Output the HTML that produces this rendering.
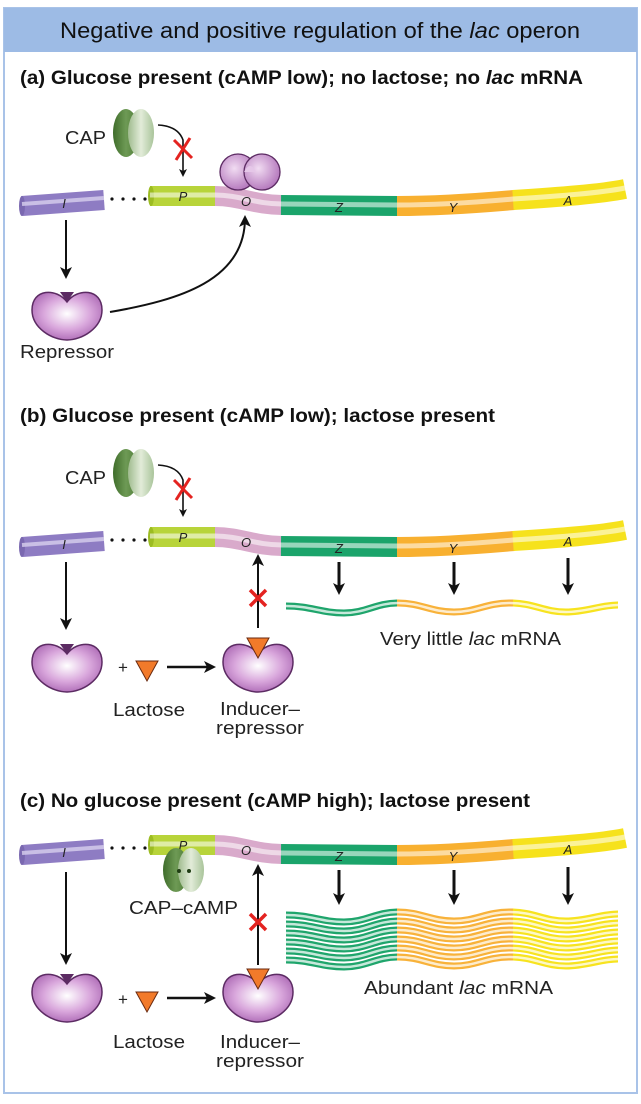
<!DOCTYPE html>
<html><head><meta charset="utf-8"><style>
html,body{margin:0;padding:0;background:#fff;}
svg{display:block;font-family:"Liberation Sans",sans-serif;}
</style></head><body>
<svg width="641" height="1104" viewBox="0 0 641 1104" xmlns="http://www.w3.org/2000/svg">
<defs>
<marker id="ah" markerWidth="8" markerHeight="8" refX="6" refY="4" orient="auto" markerUnits="userSpaceOnUse"><path d="M0,0 L8,4 L0,8 L2,4 Z" fill="#111"/></marker>
<marker id="ahb" markerWidth="12" markerHeight="12" refX="9" refY="6" orient="auto" markerUnits="userSpaceOnUse"><path d="M0,0 L12,6 L0,12 L3,6 Z" fill="#111"/></marker>
<radialGradient id="hg" cx="0.5" cy="0.45" r="0.6"><stop offset="0" stop-color="#fff"/><stop offset="0.55" stop-color="#d9a7dc"/><stop offset="1" stop-color="#a965b2"/></radialGradient>
<radialGradient id="dg" cx="0.4" cy="0.4" r="0.7"><stop offset="0" stop-color="#f1dcf2"/><stop offset="1" stop-color="#ad6cb6"/></radialGradient>
<linearGradient id="cg1" x1="0" x2="1"><stop offset="0" stop-color="#3f6d2b"/><stop offset="0.5" stop-color="#6e9a55"/><stop offset="1" stop-color="#4b7934"/></linearGradient>
<linearGradient id="cg2" x1="0" x2="1"><stop offset="0" stop-color="#9fbb8e"/><stop offset="0.5" stop-color="#e2ecd9"/><stop offset="1" stop-color="#a9c49a"/></linearGradient>
<path id="wv" d="M0,-2 C25,-2 35,5 58,5 C80,5 90,-5 112,-5 C135,-5 145,4 168,4 C190,4 200,-5 224,-5 C248,-5 258,4 280,4 C300,4 315,-3 332,-3" fill="none"/>
<clipPath id="c1"><rect x="0" y="-20" width="111" height="40"/></clipPath>
<clipPath id="c2"><rect x="111" y="-20" width="116" height="40"/></clipPath>
<clipPath id="c3"><rect x="227" y="-20" width="110" height="40"/></clipPath>
<g id="stripe">
<use href="#wv" stroke="#1fa56c" stroke-width="7" clip-path="url(#c1)"/>
<use href="#wv" stroke="#f8b23a" stroke-width="7" clip-path="url(#c2)"/>
<use href="#wv" stroke="#f7e31f" stroke-width="7" clip-path="url(#c3)"/>
<use href="#wv" stroke="#fff" stroke-opacity="0.75" stroke-width="2.5"/>
</g>
<g id="dna">
<path d="M22,547 L104,541" stroke="#8e7cc3" stroke-width="20"/>
<ellipse cx="22" cy="547" rx="3" ry="10" fill="#7a68b0"/>
<path d="M22,545 L104,539" stroke="#d8d0ee" stroke-width="4" opacity="0.8"/>
<g fill="#111"><circle cx="112" cy="540" r="1.6"/><circle cx="123" cy="540" r="1.6"/><circle cx="134" cy="540" r="1.6"/><circle cx="145" cy="540" r="1.6"/></g>
<path d="M150,537 L216,537" stroke="#b8d43a" stroke-width="20"/>
<ellipse cx="151" cy="537" rx="3" ry="10" fill="#9cbc22"/>
<path d="M215,537 C240,537 255,546 282,546" stroke="#d9aacb" stroke-width="20" fill="none"/>
<path d="M281,546 L398,547" stroke="#1ba46b" stroke-width="20"/>
<path d="M397,547 C440,547 480,544 514,541" stroke="#f8b030" stroke-width="20" fill="none"/>
<path d="M513,541 C560,538 600,535 625,530" stroke="#f6e21c" stroke-width="20" fill="none"/>
<path d="M150,536 L215,536 C240,536 255,545 282,545 L397,546 C440,546 480,543 513,540 C560,537 600,534 625,529" stroke="#fff" stroke-opacity="0.55" stroke-width="5" fill="none"/>
<g font-style="italic" font-size="13" fill="#222" text-anchor="middle">
<text x="64" y="549">I</text><text x="183" y="542">P</text><text x="246" y="547">O</text><text x="339" y="553">Z</text><text x="453" y="553">Y</text><text x="568" y="546">A</text>
</g>
</g>
<g id="cap">
<ellipse cx="126" cy="473" rx="13" ry="24" fill="url(#cg1)"/>
<ellipse cx="141" cy="473" rx="13" ry="24" fill="url(#cg2)"/>
<path d="M158,465 Q178,466 183,480 L183,515" stroke="#111" stroke-width="1.6" fill="none" marker-end="url(#ah)"/>
<path d="M174,480 L192,498 M190,478 L176,500" stroke="#e42320" stroke-width="3"/>
<text x="65" y="484" font-size="18" textLength="41" lengthAdjust="spacingAndGlyphs" fill="#222">CAP</text>
</g>
<g id="heart">
<path d="M0,12 C-10,-2 -35,-2 -35,20 C-35,38 -15,50 0,50 C15,50 35,38 35,20 C35,-2 10,-2 0,12 Z" fill="url(#hg)" stroke="#5c2b63" stroke-width="1.5"/>
</g>
<path id="notch" d="M-7,2 L7,2 L0,12 Z" fill="#5c2b63"/>
<path id="tri" d="M-11,0 L11,0 L0,20 Z" fill="#f27a2a" stroke="#6a2a10" stroke-width="1"/>
</defs>

<rect x="4" y="8" width="633" height="1085" fill="#fff" stroke="#a9c3e8" stroke-width="2"/>
<rect x="4" y="8" width="633" height="44" fill="#9dbbe5"/>
<text x="60" y="38" font-size="22" textLength="520" lengthAdjust="spacingAndGlyphs" fill="#111">Negative and positive regulation of the <tspan font-style="italic">lac</tspan> operon</text>

<!-- (a) -->
<text x="20" y="84" font-size="19" font-weight="bold" textLength="563" lengthAdjust="spacingAndGlyphs" fill="#111">(a) Glucose present (cAMP low); no lactose; no <tspan font-style="italic">lac</tspan> mRNA</text>
<use href="#cap" transform="translate(0,-340)"/>
<g transform="translate(0,-341)"><use href="#dna"/></g>
<circle cx="238" cy="172" r="18" fill="url(#dg)" stroke="#5c2b63" stroke-width="1.3"/>
<circle cx="262" cy="172" r="18" fill="url(#dg)" stroke="#5c2b63" stroke-width="1.3"/>
<path d="M244,172 Q250,160 256,172" fill="#e5c7e8" stroke="none"/>
<path d="M66,220 L66,276" stroke="#111" stroke-width="2" marker-end="url(#ahb)"/>
<use href="#heart" transform="translate(67,290)"/>
<use href="#notch" transform="translate(67,290)"/>
<text x="20" y="358" font-size="18" textLength="94" lengthAdjust="spacingAndGlyphs" fill="#222">Repressor</text>
<path d="M110,312 C180,300 245,280 245,218" stroke="#111" stroke-width="2" fill="none" marker-end="url(#ahb)"/>

<!-- (b) -->
<text x="20" y="422" font-size="19" font-weight="bold" textLength="475" lengthAdjust="spacingAndGlyphs" fill="#111">(b) Glucose present (cAMP low); lactose present</text>
<use href="#cap"/>
<use href="#dna"/>
<path d="M66,562 L66,627" stroke="#111" stroke-width="2" marker-end="url(#ahb)"/>
<use href="#heart" transform="translate(67,642)"/>
<use href="#notch" transform="translate(67,642)"/>
<text x="118" y="673" font-size="17" fill="#222">+</text>
<use href="#tri" transform="translate(147,661)"/>
<path d="M167,667 L213,667" stroke="#111" stroke-width="2.5" marker-end="url(#ahb)"/>
<use href="#heart" transform="translate(258,642)"/>
<use href="#tri" transform="translate(258,638)"/>
<path d="M258,628 L258,557" stroke="#111" stroke-width="2" marker-end="url(#ahb)"/>
<path d="M250,590 L266,606 M266,590 L250,606" stroke="#e42320" stroke-width="3.5"/>
<g stroke="#111" stroke-width="3"><path d="M339,562 L339,592" marker-end="url(#ahb)"/><path d="M454,562 L454,592" marker-end="url(#ahb)"/><path d="M568,558 L568,592" marker-end="url(#ahb)"/></g>
<use href="#stripe" transform="translate(286,608)"/>
<text x="380" y="645" font-size="18" textLength="181" lengthAdjust="spacingAndGlyphs" fill="#222">Very little <tspan font-style="italic">lac</tspan> mRNA</text>
<text x="113" y="716" font-size="18" textLength="72" lengthAdjust="spacingAndGlyphs" fill="#222">Lactose</text>
<text x="220" y="715" font-size="18" textLength="80" lengthAdjust="spacingAndGlyphs" fill="#222">Inducer–</text>
<text x="216" y="734" font-size="18" textLength="88" lengthAdjust="spacingAndGlyphs" fill="#222">repressor</text>

<!-- (c) -->
<text x="20" y="807" font-size="19" font-weight="bold" textLength="510" lengthAdjust="spacingAndGlyphs" fill="#111">(c) No glucose present (cAMP high); lactose present</text>
<g transform="translate(0,308)"><use href="#dna"/></g>
<ellipse cx="176" cy="870" rx="13" ry="22" fill="url(#cg1)"/>
<ellipse cx="191" cy="870" rx="13" ry="22" fill="url(#cg2)"/>
<circle cx="179" cy="871" r="2" fill="#1f3d14"/><circle cx="189" cy="871" r="2" fill="#1f3d14"/>
<text x="129" y="914" font-size="18" textLength="109" lengthAdjust="spacingAndGlyphs" fill="#222">CAP–cAMP</text>
<path d="M66,872 L66,962" stroke="#111" stroke-width="2" marker-end="url(#ahb)"/>
<use href="#heart" transform="translate(67,972)"/>
<use href="#notch" transform="translate(67,972)"/>
<text x="118" y="1005" font-size="17" fill="#222">+</text>
<use href="#tri" transform="translate(147,992)"/>
<path d="M167,998 L213,998" stroke="#111" stroke-width="2.5" marker-end="url(#ahb)"/>
<use href="#heart" transform="translate(258,972)"/>
<use href="#tri" transform="translate(258,969)"/>
<path d="M258,965 L258,867" stroke="#111" stroke-width="2" marker-end="url(#ahb)"/>
<path d="M250,914 L266,930 M266,914 L250,930" stroke="#e42320" stroke-width="3.5"/>
<g stroke="#111" stroke-width="3"><path d="M339,870 L339,902" marker-end="url(#ahb)"/><path d="M454,870 L454,902" marker-end="url(#ahb)"/><path d="M568,867 L568,902" marker-end="url(#ahb)"/></g>
<use href="#stripe" transform="translate(286,917)"/>
<use href="#stripe" transform="translate(286,926)"/>
<use href="#stripe" transform="translate(286,935)"/>
<use href="#stripe" transform="translate(286,944)"/>
<use href="#stripe" transform="translate(286,953)"/>
<use href="#stripe" transform="translate(286,962)"/>
<text x="364" y="994" font-size="18" textLength="189" lengthAdjust="spacingAndGlyphs" fill="#222">Abundant <tspan font-style="italic">lac</tspan> mRNA</text>
<text x="113" y="1048" font-size="18" textLength="72" lengthAdjust="spacingAndGlyphs" fill="#222">Lactose</text>
<text x="220" y="1048" font-size="18" textLength="80" lengthAdjust="spacingAndGlyphs" fill="#222">Inducer–</text>
<text x="216" y="1067" font-size="18" textLength="88" lengthAdjust="spacingAndGlyphs" fill="#222">repressor</text>
</svg>
</body></html>
